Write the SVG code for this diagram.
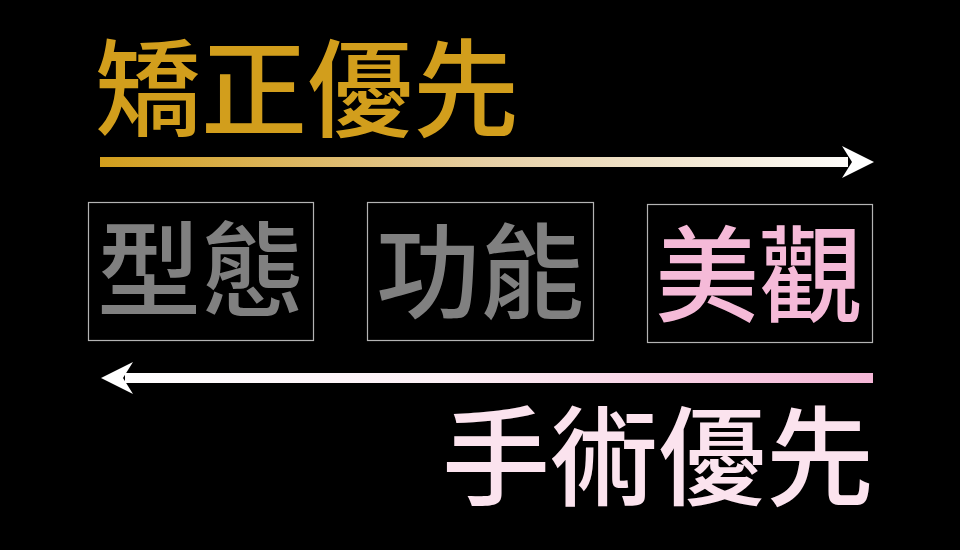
<svg xmlns="http://www.w3.org/2000/svg" width="960" height="550" viewBox="0 0 960 550">
<defs>
<linearGradient id="gTop" x1="100" y1="0" x2="875" y2="0" gradientUnits="userSpaceOnUse">
<stop offset="0" stop-color="#D29E1C"/>
<stop offset="0.5" stop-color="#E6CFA5"/>
<stop offset="1" stop-color="#FFFFFF"/>
</linearGradient>
<linearGradient id="gBot" x1="100" y1="0" x2="875" y2="0" gradientUnits="userSpaceOnUse">
<stop offset="0" stop-color="#FFFFFF"/>
<stop offset="0.45" stop-color="#FCEFF5"/>
<stop offset="1" stop-color="#F4B6D6"/>
</linearGradient>
<style>
.t{font-family:"Noto Sans CJK TC","Noto Sans CJK SC",sans-serif;font-weight:500}
.box{fill:none;stroke:#B4B4B4;stroke-width:1.2}
</style>
</defs>
<rect width="960" height="550" fill="#000"/>
<g id="title-top"><text class="t" x="95" y="128" font-size="106" fill="#D29E1C">矯正優先</text></g>
<g id="connectors">
<rect x="100" y="157" width="748" height="10" fill="url(#gTop)"/>
<polygon points="842,146 874,162 842,178 852,162" fill="#FFFFFF"/>
<rect x="125" y="373" width="748" height="10" fill="url(#gBot)"/>
<polygon points="133,362 101,378 133,394 123,378" fill="#FFFFFF"/>
</g>
<g id="node-xingtai"><rect class="box" x="88.5" y="202.5" width="225" height="138"/><text class="t" x="97" y="309" font-size="104" fill="#808080">型態</text></g>
<g id="node-gongneng"><rect class="box" x="367.5" y="202.5" width="226" height="138"/><text class="t" x="376" y="311" font-size="104" fill="#808080">功能</text></g>
<g id="node-meiguan"><rect class="box" x="647.5" y="204.5" width="225" height="138"/><text class="t" x="655" y="314" font-size="104" fill="#F5BAD8">美觀</text></g>
<g id="title-bottom"><text class="t" x="442" y="497" font-size="108" fill="#FBE3EE">手術優先</text></g>
</svg>
